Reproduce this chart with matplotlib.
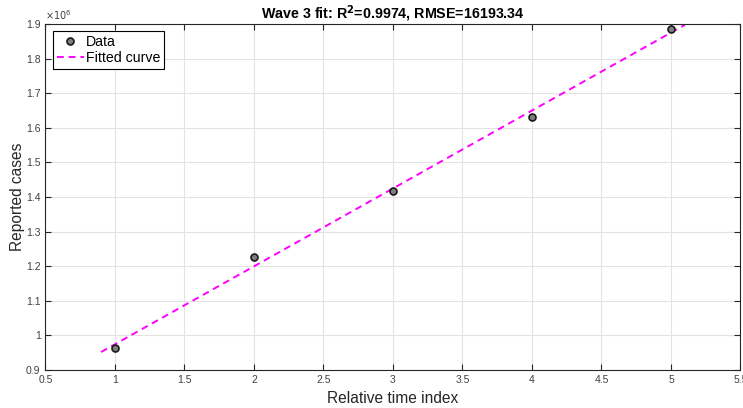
import matplotlib
matplotlib.use("Agg")
import matplotlib.pyplot as plt
import numpy as np

plt.rcParams['font.family'] = ['Liberation Sans', 'DejaVu Sans']

# Data
time_idx = [1, 2, 3, 4, 5]
cases = [0.9627e6, 1.2257e6, 1.418e6, 1.631e6, 1.8855e6]
fit_x = [0.9, 5.1]
fit_y = [0.952e6, 1.8975e6]
xticks = [0.5, 1, 1.5, 2, 2.5, 3, 3.5, 4, 4.5, 5, 5.5]
yticks = [0.9e6, 1.0e6, 1.1e6, 1.2e6, 1.3e6, 1.4e6, 1.5e6, 1.6e6, 1.7e6, 1.8e6, 1.9e6]
ytick_labels = ['0.9', '1', '1.1', '1.2', '1.3', '1.4', '1.5', '1.6', '1.7', '1.8', '1.9']

fig = plt.figure(figsize=(7.43, 4.08), dpi=100)
ax = fig.add_axes([0.0612, 0.0931, 0.9354, 0.8481])

axc = '#262626'
ax.plot(time_idx, cases, 'o', markerfacecolor='#7f7f7f', markeredgecolor='#1a1a1a',
        markeredgewidth=1.2, markersize=5, label='Data', zorder=3)
ax.plot(fit_x, fit_y, '--', color='#ff00ff', lw=1.4, dashes=(3.5, 2.5), label='Fitted curve', zorder=2)

ax.set_xlim(0.5, 5.5)
ax.set_ylim(0.9e6, 1.9e6)
ax.set_xticks(xticks)
ax.set_xticklabels([('%g' % v) for v in xticks])
ax.set_yticks(yticks)
ax.set_yticklabels(ytick_labels)
ax.tick_params(direction='in', length=4, width=0.8, colors=axc, labelsize=7.5,
               top=True, right=True, labelcolor='#404040')
ax.grid(True, color='#e3e3e3', lw=0.8)
ax.set_axisbelow(True)
for s in ax.spines.values():
    s.set_color(axc)
    s.set_linewidth(0.8)

ax.text(0.0, 1.005, r'$\times10^{6}$', transform=ax.transAxes, fontsize=7,
        color='#404040', ha='left', va='bottom')

ax.set_xlabel('Relative time index', fontsize=11.2, color=axc, labelpad=4.5)
ax.set_ylabel('Reported cases', fontsize=11.2, color=axc, labelpad=0.5)
ax.set_title(r'Wave 3 fit: R$^\mathbf{2}$=0.9974, RMSE=16193.34', fontsize=10.3,
             fontweight='bold', color='black', pad=4)

leg = ax.legend(loc='upper left', fontsize=10.2, frameon=True, fancybox=False,
                edgecolor='black', framealpha=1, borderpad=0.3, handlelength=1.9,
                handletextpad=0.15, labelspacing=0.1, borderaxespad=0.5)
leg.get_frame().set_linewidth(0.8)

fig.savefig('out.png', dpi=100)
